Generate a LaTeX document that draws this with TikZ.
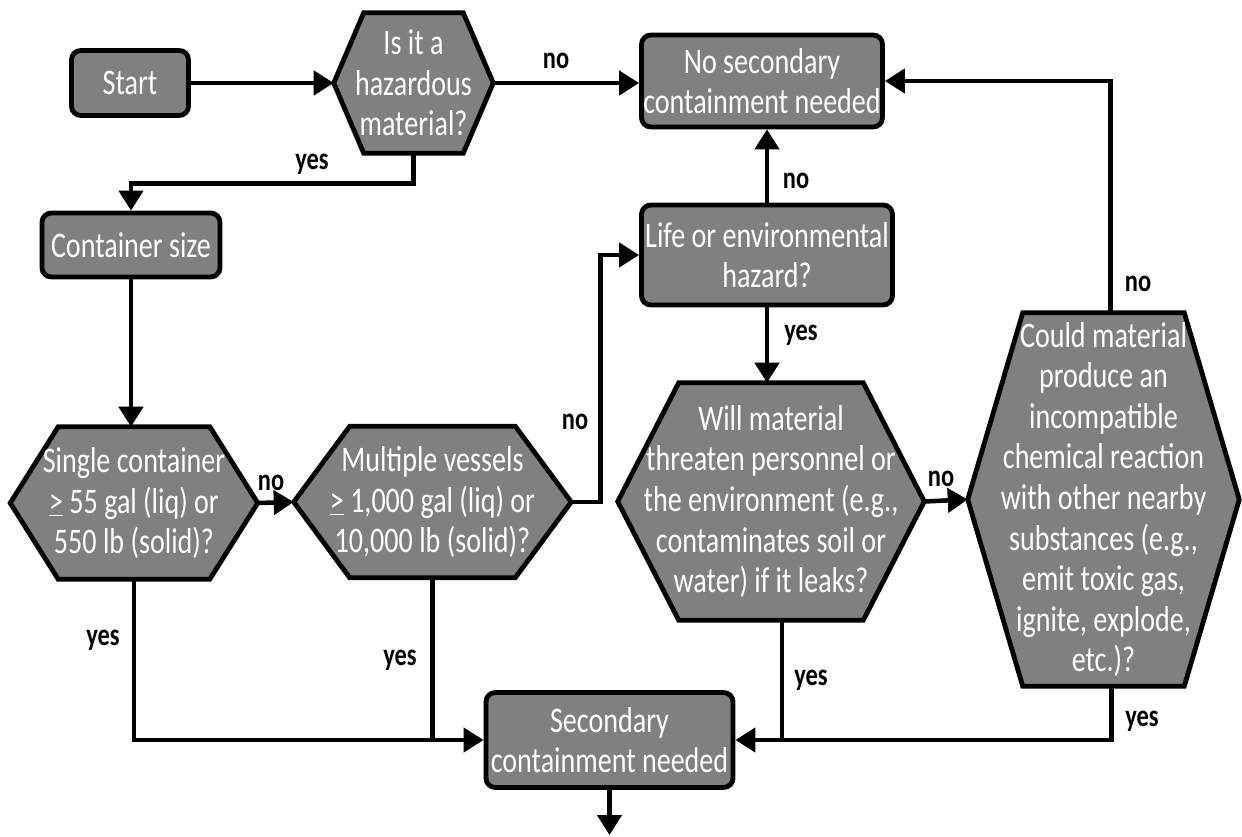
\documentclass[tikz,border=0pt]{standalone}
\usepackage{fontspec}
\setmainfont{Carlito}[FakeStretch=0.78]
\usetikzlibrary{arrows.meta,calc,backgrounds}
\definecolor{boxgray}{RGB}{128,128,128}
\newcommand\mainsize{\fontsize{27}{30.4}\selectfont}
\newcommand\lblsize{\fontsize{23.5}{27}\selectfont\bfseries}
\newcommand\drawhex[2]{\draw[hexdraw] (#1.west) -- ($(#1.north west)+(#2,0)$) -- ($(#1.north east)+(-#2,0)$) -- (#1.east) -- ($(#1.south east)+(-#2,0)$) -- ($(#1.south west)+(#2,0)$) -- cycle;}
\begin{document}
\begin{tikzpicture}[x=0.75pt,y=-0.75pt,
  sz/.style 2 args={minimum width={#1*0.75pt},minimum height={#2*0.75pt}},
  box/.style={draw=black,line width=3.6pt,fill=boxgray,rounded corners=7pt,text=white,align=center,inner sep=0pt,font=\mainsize},
  hexnode/.style={text=white,align=center,inner sep=0pt,font=\mainsize},
  hexdraw/.style={draw=black,line width=3.6pt,fill=boxgray},
  conn/.style={line width=3.4pt},
  arr/.style={conn,-{Triangle[length=15pt,width=18pt]}},
  lbl/.style={font=\lblsize,text=black,inner sep=0pt}]
\useasboundingbox (0,0) rectangle (1242,837);

\node[box,sz={117}{65}] (start) at (130,83) {Start};
\node[hexnode,sz={159}{140}] (haz) at (413.5,83) {Is it a\\hazardous\\material?};
\node[box,sz={241}{92}] (nosec) at (762,81) {No secondary\\containment needed};
\node[box,sz={251}{100}] (life) at (767,255) {Life or environmental\\hazard?};
\node[box,sz={178}{64}] (cont) at (131,245) {Container size};
\node[hexnode,sz={247}{152}] (single) at (134,503) {Single container\\\underline{>} 55 gal (liq) or\\550 lb (solid)?};
\node[hexnode,sz={277}{151}] (multi) at (432.5,502) {Multiple vessels\\\underline{>} 1,000 gal (liq) or\\10,000 lb (solid)?};
\node[box,sz={247}{95}] (sec) at (609.5,740) {Secondary\\containment needed};
\node[hexnode,sz={306}{237}] (will) at (771,501.5) {Will material\\threaten personnel or\\the environment (e.g.,\\contaminates soil or\\water) if it leaks?};
\node[hexnode,sz={271}{373}] (could) at (1103.5,499.5) {Could material\\produce an\\incompatible\\chemical reaction\\with other nearby\\substances (e.g.,\\emit toxic gas,\\ignite, explode,\\etc.)?};

\begin{scope}[on background layer]
\drawhex{haz}{30}
\drawhex{single}{48}
\drawhex{multi}{56}
\drawhex{will}{61}
\drawhex{could}{55}
\end{scope}

\coordinate (out) at (609.5,835);
\coordinate (wy) at ($(will.south)+(11,0)$);
\coordinate (cy) at ($(could.south)+(8,0)$);
\coordinate (cn) at ($(could.north)+(7,0)$);

\draw[arr] (start.east) -- (haz.west);
\draw[arr] (haz.east) -- (haz.east -| nosec.west);
\draw[arr] (haz.south) -- ++(0,30) -| (cont.north);
\draw[arr] (cont.south) -- (cont.south |- single.north);
\draw[arr] (single.east) -- (multi.west);
\draw[arr] (multi.east) -- ++(29,0) |- (life.west);
\draw[arr] (life.north) -- (life.north |- nosec.south);
\draw[arr] (life.south) -- (life.south |- will.north);
\draw[arr] (will.east) -- (could.west);
\draw[arr] (cn) |- (nosec.east);
\draw[arr] (single.south) |- (sec.west);
\draw[conn] (multi.south) -- (multi.south |- sec.west);
\draw[arr] (cy) |- (sec.east);
\draw[conn] (wy) -- (wy |- sec.east);
\draw[arr] (sec.south) -- (out);

\node[lbl] (l1) at (556,61) {no};
\node[lbl] (l2) at (312,164) {yes};
\node[lbl] (l3) at (796,181) {no};
\node[lbl] (l4) at (1138,284) {no};
\node[lbl] (l5) at (575,422) {no};
\node[lbl] (l6) at (271,483) {no};
\node[lbl] (l7) at (103,640) {yes};
\node[lbl] (l8) at (400,660) {yes};
\node[lbl] (l9) at (801,335) {yes};
\node[lbl] (l10) at (941,479) {no};
\node[lbl] (l11) at (811,680) {yes};
\node[lbl] (l12) at (1142,721) {yes};
\end{tikzpicture}
\end{document}
